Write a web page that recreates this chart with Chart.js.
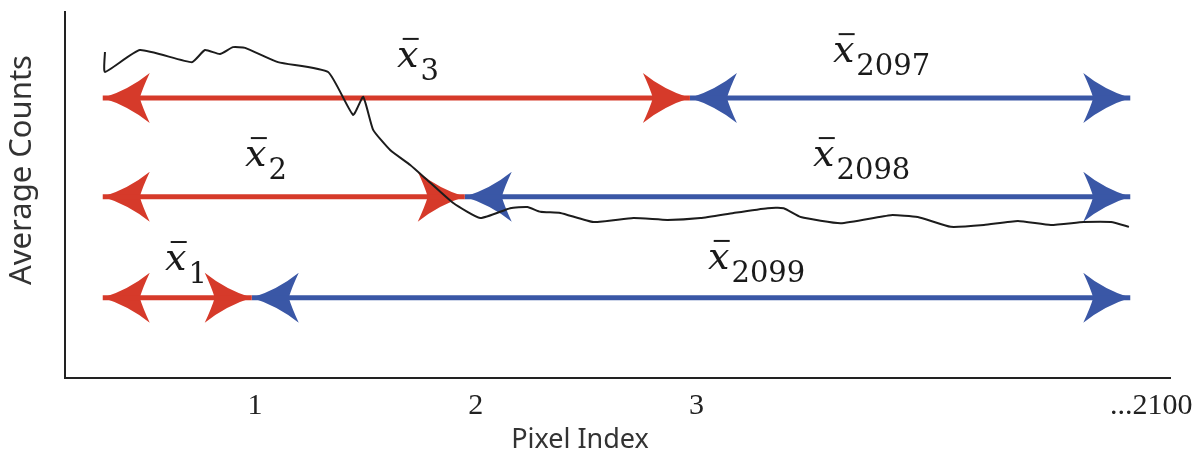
<!DOCTYPE html>
<html>
<head>
<meta charset="utf-8">
<script src="https://cdn.jsdelivr.net/npm/chart.js@4"></script>
<style>
  html, body { margin: 0; padding: 0; background: #fff; }
</style>
</head>
<body>
<canvas id="chart" width="1201" height="466"></canvas>
<script>
// The pixel axis is schematic: 1, 2, 3 ... 2100, so x is kept in "tick units"
const curveX = [0.32, 0.32, 0.478, 0.714, 0.773, 0.841, 0.9, 0.955, 1.104, 1.331, 1.444, 1.49, 1.535,
  1.612, 1.703, 1.78, 1.898, 2.02, 2.156, 2.234, 2.293, 2.383, 2.533, 2.714, 2.868, 3.018, 3.168,
  3.322, 3.395, 3.472, 3.653, 3.88, 4.002, 4.152, 4.302, 4.456, 4.605, 4.755, 4.878, 4.959];
const curveY = [89.1, 83.6, 89.6, 86.3, 89.6, 88.5, 90.4, 90.2, 86.3, 83.6, 71.9, 76.8, 67.8,
  62.3, 58.2, 54.1, 47.8, 43.7, 46.4, 46.7, 45.4, 45.1, 42.6, 43.7, 43.2, 43.7, 45.1,
  46.4, 46.4, 44.0, 42.3, 44.5, 44.0, 41.3, 41.8, 42.9, 41.8, 42.6, 42.6, 41.3];

const tickValues = [1, 2, 3, 5.06];
const tickLabels = ['1', '2', '3', '...2100'];

// three arrow rows: height, where red meets blue
const rowY = [76.5, 49.5, 21.9];
const rowSplit = [2.97, 1.95, 0.985];
const arrowStart = 0.31;
const arrowEnd = 4.965;

// x-bar labels
const labelSubs = ['3', '2', '1', '2097', '2098', '2099'];
const labelX = [1.643, 0.955, 0.592, 3.618, 3.528, 3.052];
const labelY = [85.0, 57.9, 29.5, 86.3, 57.9, 29.8];

const RED = 'rgb(214, 58, 42)';
const BLUE = 'rgb(58, 87, 166)';

function drawHead(ctx, x, y, dir, color) {
  const L = 47, W = 25, N = 37;
  ctx.fillStyle = color;
  ctx.beginPath();
  ctx.moveTo(x, y);
  ctx.quadraticCurveTo(x - dir * L * 0.55, y - W * 0.32, x - dir * L, y - W);
  ctx.quadraticCurveTo(x - dir * (N + 3), y - W * 0.4, x - dir * N, y);
  ctx.quadraticCurveTo(x - dir * (N + 3), y + W * 0.4, x - dir * L, y + W);
  ctx.quadraticCurveTo(x - dir * L * 0.55, y + W * 0.32, x, y);
  ctx.fill();
}

const arrowHeads = {
  id: 'arrowHeads',
  beforeDatasetsDraw(chart) {
    const ctx = chart.ctx;
    ctx.save();
    chart.data.datasets.forEach((ds, i) => {
      if (!ds.arrow) return;
      const pts = chart.getDatasetMeta(i).data;
      const a = pts[0], b = pts[pts.length - 1];
      drawHead(ctx, a.x, a.y, -1, ds.borderColor);
      drawHead(ctx, b.x, b.y, 1, ds.borderColor);
    });
    ctx.restore();
  }
};

const meanLabels = {
  id: 'meanLabels',
  afterDatasetsDraw(chart) {
    const { ctx, scales: { x, y } } = chart;
    ctx.save();
    ctx.fillStyle = '#1a1a1a';
    ctx.strokeStyle = '#1a1a1a';
    ctx.lineWidth = 2;
    ctx.textBaseline = 'alphabetic';
    ctx.textAlign = 'left';
    labelSubs.forEach((sub, i) => {
      const px = x.getPixelForValue(labelX[i]);
      const py = y.getPixelForValue(labelY[i]);
      ctx.font = 'italic 38px "DejaVu Serif"';
      ctx.fillText('x', px, py);
      const w = ctx.measureText('x').width;
      // the bar over x
      const cx = px + w / 2 + 3;
      ctx.beginPath();
      ctx.moveTo(cx - 8, py - 28);
      ctx.lineTo(cx + 8, py - 28);
      ctx.stroke();
      ctx.font = '29px "DejaVu Serif"';
      ctx.fillText(sub, px + w + 2, py + 13);
    });
    ctx.restore();
  }
};

// axis titles sit off-centre in the original figure
const axisTitles = {
  id: 'axisTitles',
  afterDraw(chart) {
    const { ctx, chartArea } = chart;
    ctx.save();
    ctx.fillStyle = '#333';
    ctx.textAlign = 'center';
    ctx.textBaseline = 'middle';
    ctx.font = '27px "Noto Sans"';
    ctx.fillText('Pixel Index', chartArea.left + 515, chartArea.bottom + 62);
    ctx.translate(chartArea.left - 43, chartArea.top + 158);
    ctx.rotate(-Math.PI / 2);
    ctx.font = '31px "Noto Sans"';
    ctx.fillText('Average Counts', 0, 0);
    ctx.restore();
  }
};

const datasets = [{
  label: 'Average Counts',
  data: curveX.map((v, i) => ({ x: v, y: curveY[i] })),
  borderColor: '#1c1c1c',
  borderWidth: 2,
  pointRadius: 0,
  tension: 0.15
}];

rowY.forEach((ry, i) => {
  datasets.push({
    arrow: true,
    data: [{ x: arrowStart, y: ry }, { x: rowSplit[i], y: ry }],
    borderColor: RED, borderWidth: 5, pointRadius: 0
  });
  datasets.push({
    arrow: true,
    data: [{ x: rowSplit[i], y: ry }, { x: arrowEnd, y: ry }],
    borderColor: BLUE, borderWidth: 5, pointRadius: 0
  });
});

new Chart(document.getElementById('chart'), {
  type: 'line',
  data: { datasets },
  plugins: [arrowHeads, meanLabels, axisTitles],
  options: {
    responsive: false,
    animation: false,
    devicePixelRatio: 1,
    layout: { padding: { left: 0, top: 12, right: 31, bottom: 0 } },
    plugins: { legend: { display: false }, tooltip: { enabled: false } },
    scales: {
      x: {
        type: 'linear',
        min: 0.139,
        max: 5.145,
        grid: { display: false },
        border: { color: '#222', width: 2 },
        afterBuildTicks: axis => { axis.ticks = tickValues.map(v => ({ value: v })); },
        afterFit: s => { s.height = 88; },
        ticks: {
          autoSkip: false,
          maxRotation: 0,
          padding: 2,
          color: '#222',
          font: { family: '"Liberation Serif"', size: 30 },
          callback: v => tickLabels[tickValues.indexOf(v)]
        }
      },
      y: {
        min: 0,
        max: 100,
        grid: { display: false },
        border: { color: '#222', width: 2 },
        ticks: { display: false },
        afterFit: s => { s.width = 65; }
      }
    }
  }
});
</script>
</body>
</html>
